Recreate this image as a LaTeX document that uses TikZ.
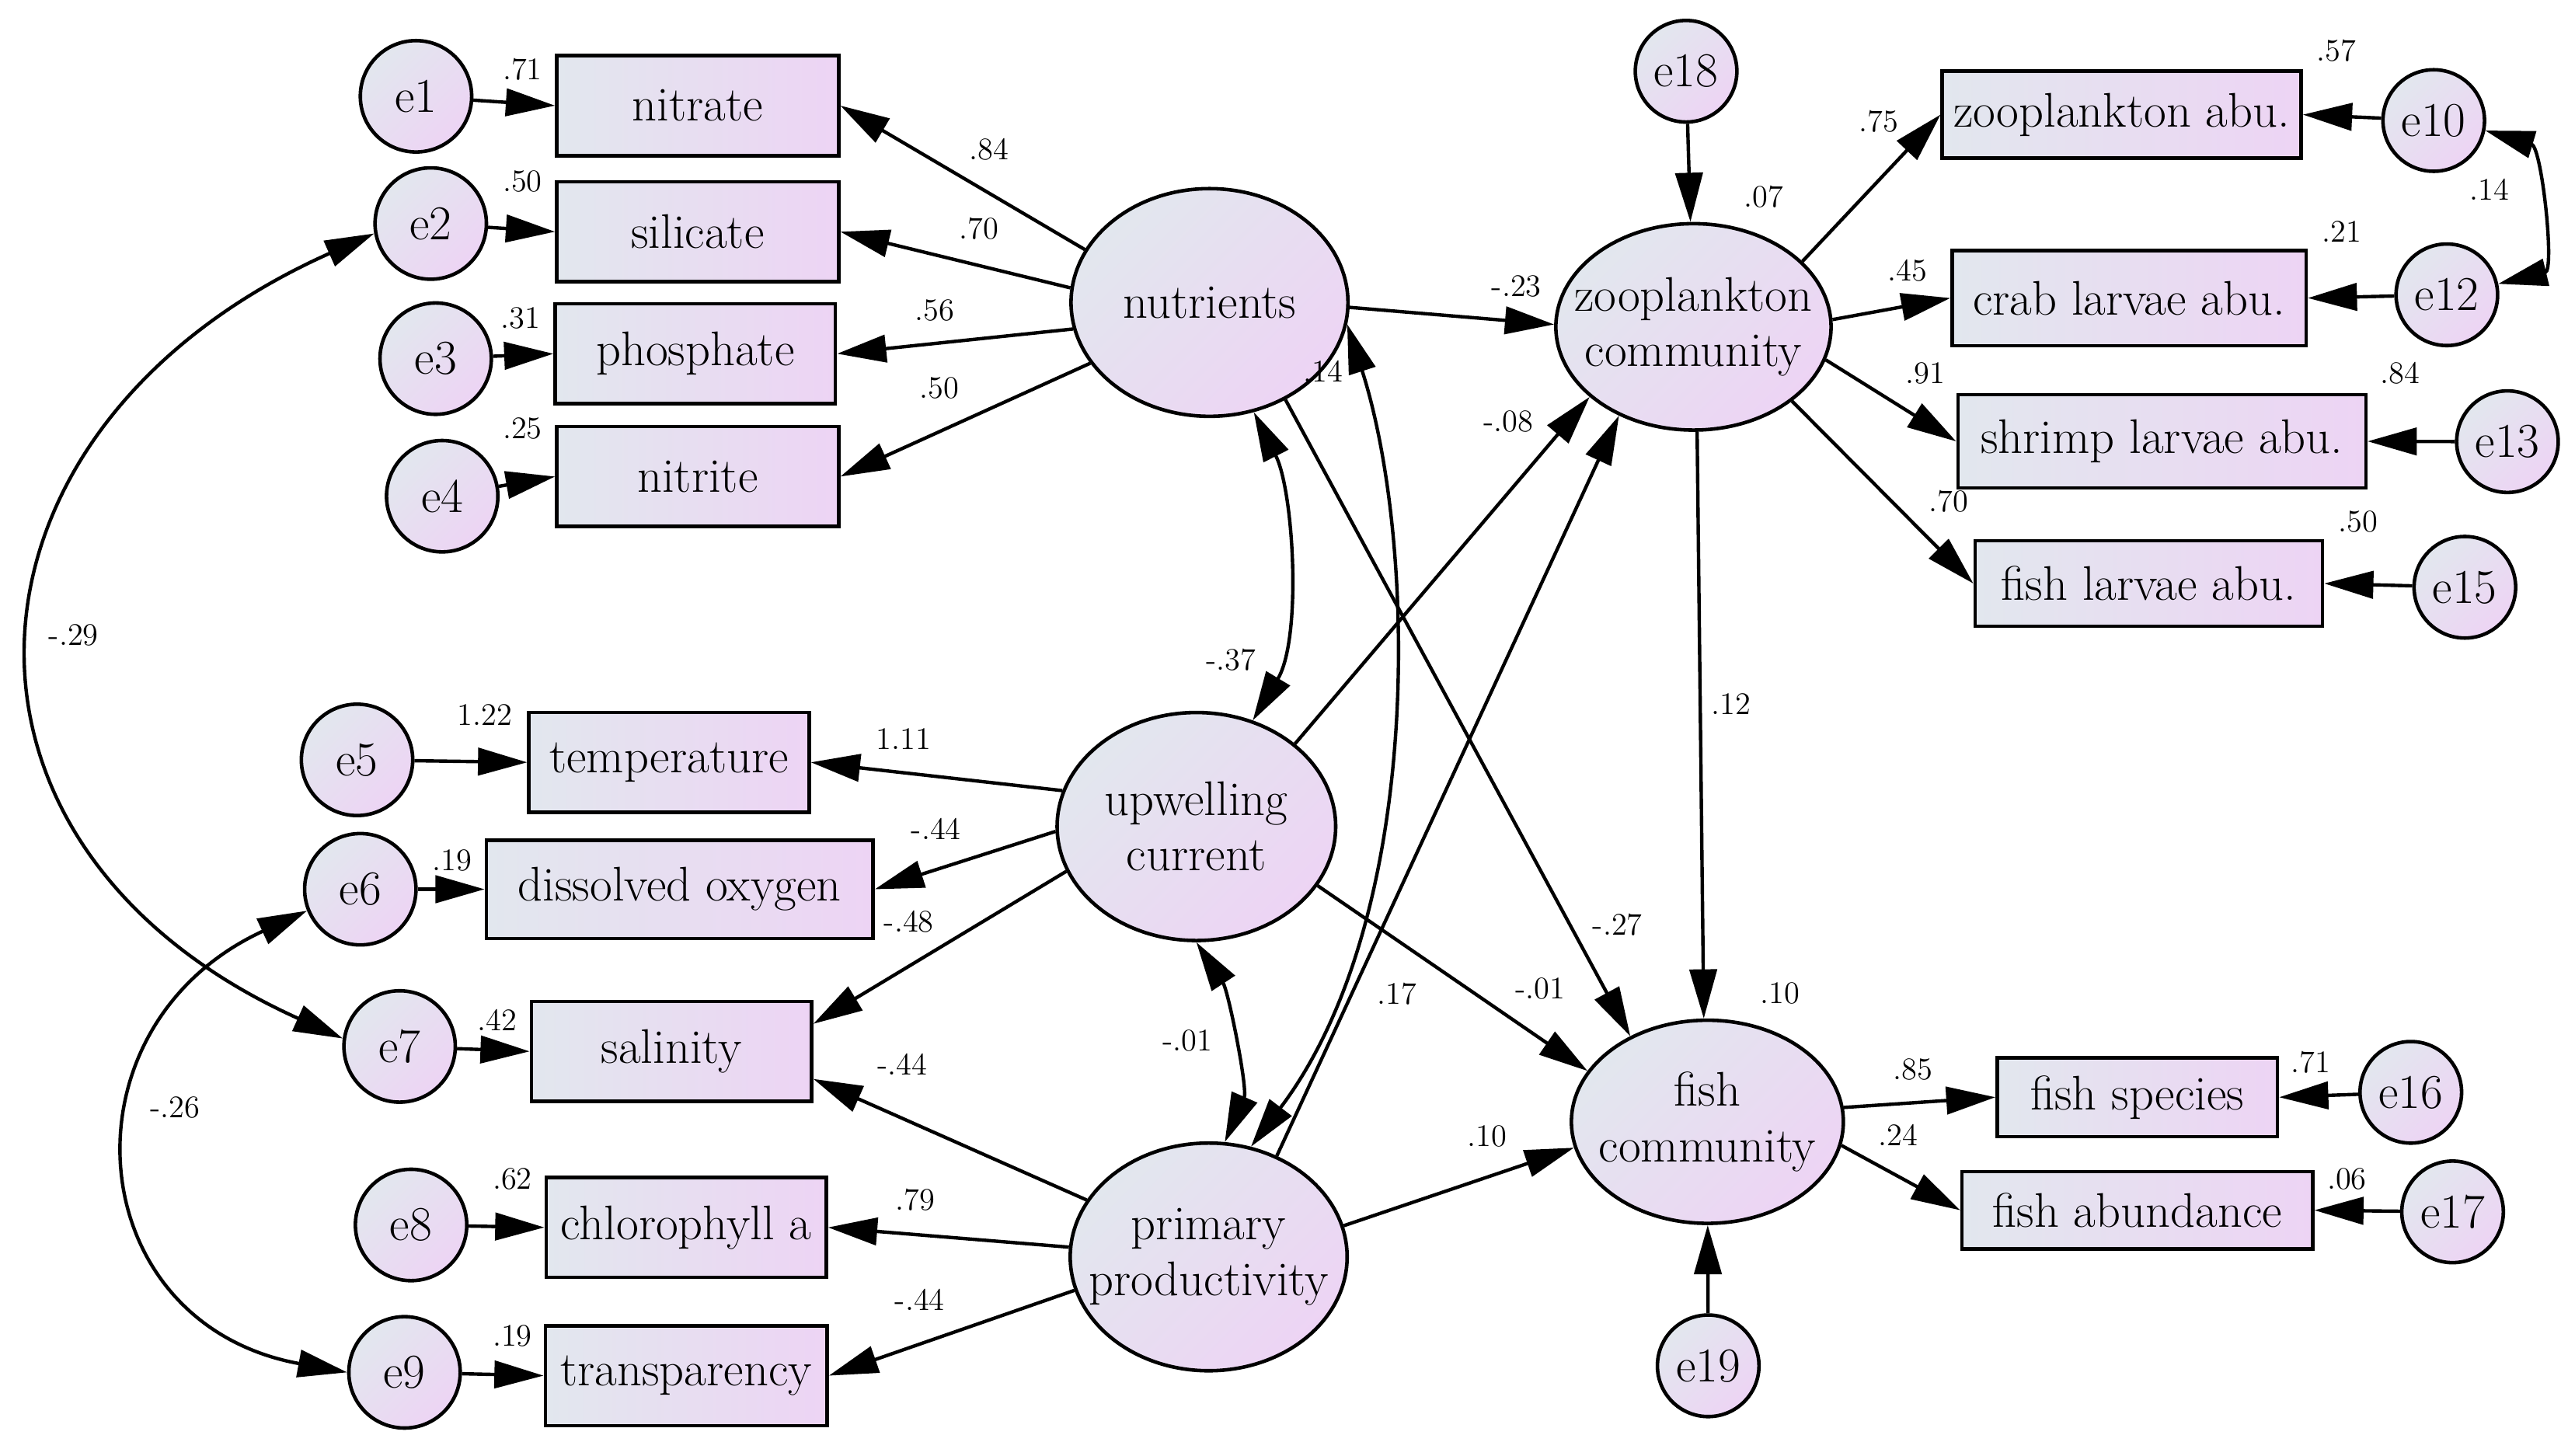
\documentclass[tikz,border=0pt]{standalone}
\usetikzlibrary{shapes.geometric,arrows.meta,shadings}
\definecolor{cA}{RGB}{226,231,238}
\definecolor{cB}{RGB}{237,212,244}
\begin{document}
\begin{tikzpicture}[x=0.02108cm, y=-0.02108cm,
  box/.style={draw, line width=1.3pt, rectangle, left color=cA, right color=cB, inner sep=1pt, font=\fontsize{17.8}{20}\selectfont},
  errl/.style={draw, line width=1.3pt, circle, inner sep=0pt, minimum size=1.433cm, top color=cA, bottom color=cB, shading angle=45, font=\fontsize{17.8}{20}\selectfont},
  errr/.style={errl, minimum size=1.307cm},
  lat/.style={draw, line width=1.3pt, ellipse, inner sep=0pt, top color=cA, bottom color=cB, shading angle=45},
  ltxt/.style={align=center, inner sep=0pt, font=\fontsize{17.8}{20.3}\selectfont},
  lbl/.style={inner sep=0pt, font=\fontsize{11.5}{13}\selectfont},
  arr/.style={line width=1.25pt, -{Triangle[length=18pt,width=10pt]}},
  cov/.style={line width=1.25pt, {Triangle[length=18pt,width=10pt]}-{Triangle[length=18pt,width=10pt]}},
]
\useasboundingbox (0,0) rectangle (1568,889);
% left error terms
\node[errl] (e1) at (254,58.8) {e1};
\node[errl] (e2) at (263,136.5) {e2};
\node[errl] (e3) at (266,219) {e3};
\node[errl] (e4) at (270,303) {e4};
\node[errl] (e5) at (218,464) {e5};
\node[errl] (e6) at (220,543) {e6};
\node[errl] (e7) at (244,639) {e7};
\node[errl] (e8) at (251,748) {e8};
\node[errl] (e9) at (247,838) {e9};
% right error terms
\node[errr] (e10) at (1486,73.6) {e10};
\node[errr] (e12) at (1494,180) {e12};
\node[errr] (e13) at (1531,269.7) {e13};
\node[errr] (e15) at (1505,358.6) {e15};
\node[errr] (e16) at (1472,667) {e16};
\node[errr] (e17) at (1497.5,740) {e17};
\node[errr] (e18) at (1029.5,43.5) {e18};
\node[errr] (e19) at (1043,834) {e19};
% left boxes
\node[box, minimum width=3.626cm, minimum height=1.286cm] (nitrate) at (426,64.5) {nitrate};
\node[box, minimum width=3.626cm, minimum height=1.286cm] (silicate) at (426,141.5) {silicate};
\node[box, minimum width=3.605cm, minimum height=1.286cm] (phosphate) at (424.5,216) {phosphate};
\node[box, minimum width=3.626cm, minimum height=1.286cm] (nitrite) at (426,291) {nitrite};
\node[box, minimum width=3.605cm, minimum height=1.286cm] (temp) at (408.5,465.5) {temperature};
\node[box, minimum width=4.975cm, minimum height=1.265cm] (do) at (415,543) {dissolved oxygen};
\node[box, minimum width=3.605cm, minimum height=1.286cm] (sal) at (410,642) {salinity};
\node[box, minimum width=3.605cm, minimum height=1.286cm] (chl) at (419,749.5) {chlorophyll a};
\node[box, minimum width=3.626cm, minimum height=1.286cm] (tra) at (419,840) {transparency};
% right boxes
\node[box, minimum width=4.617cm, minimum height=1.117cm] (zooabu) at (1295.5,70) {zooplankton abu.};
\node[box, minimum width=4.553cm, minimum height=1.223cm] (crab) at (1300,182) {crab larvae abu.};
\node[box, minimum width=5.249cm, minimum height=1.202cm] (shrimp) at (1320,269.5) {shrimp larvae abu.};
\node[box, minimum width=4.469cm, minimum height=1.096cm] (fishlarv) at (1312,356.3) {fish larvae abu.};
\node[box, minimum width=3.605cm, minimum height=1.012cm] (fishsp) at (1305,670) {fish species};
\node[box, minimum width=4.511cm, minimum height=0.991cm] (fishab) at (1305,739) {fish abundance};
% latent variables
\node[lat, minimum width=3.563cm, minimum height=2.930cm] (nutrients) at (738.5,184.7) {};
\node[lat, minimum width=3.541cm, minimum height=2.656cm] (zoocomm) at (1034,199.6) {};
\node[lat, minimum width=3.584cm, minimum height=2.934cm] (upwelling) at (730.5,504.7) {};
\node[lat, minimum width=3.563cm, minimum height=2.930cm] (primary) at (738,767.5) {};
\node[lat, minimum width=3.499cm, minimum height=2.614cm] (fishcomm) at (1042.5,685) {};
\node[ltxt] (nutrientsT) at (nutrients) {nutrients};
\node[ltxt] (zoocommT) at (zoocomm) {zooplankton\\community};
\node[ltxt] (upwellingT) at (upwelling) {upwelling\\current};
\node[ltxt] (primaryT) at (primary) {primary\\productivity};
\node[ltxt] (fishcommT) at (fishcomm) {fish\\community};
% error arrows
\draw[arr] (e1) -- (nitrate.west);
\draw[arr] (e2) -- (silicate.west);
\draw[arr] (e3) -- (phosphate.west);
\draw[arr] (e4) -- (nitrite.west);
\draw[arr] (e5) -- (temp.west);
\draw[arr] (e6) -- (do.west);
\draw[arr] (e7) -- (sal.west);
\draw[arr] (e8) -- (chl.west);
\draw[arr] (e9) -- (tra.west);
\draw[arr] (e10) -- (zooabu.east);
\draw[arr] (e12) -- (crab.east);
\draw[arr] (e13) -- (shrimp.east);
\draw[arr] (e15) -- (fishlarv.east);
\draw[arr] (e16) -- (fishsp.east);
\draw[arr] (e17) -- (fishab.east);
\draw[arr] (e18) -- (zoocomm);
\draw[arr] (e19) -- (fishcomm);
% loadings
\draw[arr] (nutrients.157) -- (nitrate.east);
\draw[arr] (nutrients.174) -- (silicate.east);
\draw[arr] (nutrients.191) -- (phosphate.east);
\draw[arr] (nutrients.207) -- (nitrite.east);
\draw[arr] (upwelling.165) -- (temp.east);
\draw[arr] (upwelling.182) -- (do.east);
\draw[arr] (upwelling.199) -- (sal.11);
\draw[arr] (primary.155.6) -- (sal.-11);
\draw[arr] (primary.176.8) -- (chl.east);
\draw[arr] (primary.194) -- (tra.east);
\draw[arr] (zoocomm.31) -- (zooabu.west);
\draw[arr] (zoocomm.3) -- (crab.west);
\draw[arr] (zoocomm.-14) -- (shrimp.west);
\draw[arr] (zoocomm.-37) -- (fishlarv.west);
\draw[arr] (fishcomm.6) -- (fishsp.west);
\draw[arr] (fishcomm.-10) -- (fishab.west);
% structural paths
\draw[arr] (nutrients.-2) -- (zoocomm.179);
\draw[arr] (nutrients.-52) -- (fishcomm.132);
\draw[arr] (upwelling.40) -- (zoocomm.214);
\draw[arr] (upwelling.-26) -- (fishcomm.157);
\draw[arr] (primary.56) -- (zoocomm.230);
\draw[arr] (primary.13.5) -- (fishcomm.191);
\draw[arr] (zoocomm.-88) -- (fishcomm.92);
% covariances
\draw[cov] (nutrients.-68) .. controls (790,300) and (795,390) .. (upwelling.62);
\draw[cov] (nutrients.-9.5) .. controls (865,330) and (870,560) .. (primary.69);
\draw[cov] (upwelling.-90) .. controls (750,605) and (762,665) .. (primary.82);
\draw[cov] (e2.190) .. controls (-35,260) and (-53,516) .. (e7.172);
\draw[cov] (e6.202) .. controls (34,627) and (48,808) .. (e9.180);
\draw[cov] (e10.-11) .. controls (1552,90) and (1560,165) .. (e12.12);
% labels
\node[lbl] (l1) at (319,42.4) {.71};
\node[lbl] (l2) at (319,111) {.50};
\node[lbl] (l3) at (318,194.4) {.31};
\node[lbl] (l4) at (319,261.5) {.25};
\node[lbl] (l5) at (604,91) {.84};
\node[lbl] (l6) at (597.7,139.8) {.70};
\node[lbl] (l7) at (570.7,189.5) {.56};
\node[lbl] (l8) at (573.4,236.8) {.50};
\node[lbl] (l9) at (926,174.7) {-.23};
\node[lbl] (l10) at (808,226.6) {.14};
\node[lbl] (l11) at (921,257.3) {-.08};
\node[lbl] (l12) at (751.5,403) {-.37};
\node[lbl] (l13) at (296,436.7) {1.22};
\node[lbl] (l14) at (551.7,451) {1.11};
\node[lbl] (l15) at (571.6,506) {-.44};
\node[lbl] (l16) at (276,525.6) {.19};
\node[lbl] (l17) at (555,563) {-.48};
\node[lbl] (l18) at (303.5,623) {.42};
\node[lbl] (l19) at (551,650) {-.44};
\node[lbl] (l20) at (725,635.7) {-.01};
\node[lbl] (l21) at (853,607) {.17};
\node[lbl] (l22) at (987.7,564.6) {-.27};
\node[lbl] (l23) at (940.5,603.8) {-.01};
\node[lbl] (l24) at (1087,606.7) {.10};
\node[lbl] (l25) at (312.8,720) {.62};
\node[lbl] (l26) at (559,732.7) {.79};
\node[lbl] (l27) at (908,694) {.10};
\node[lbl] (l28) at (561.6,793.6) {-.44};
\node[lbl] (l29) at (312.8,816) {.19};
\node[lbl] (l30) at (1168,653) {.85};
\node[lbl] (l31) at (1411,648.5) {.71};
\node[lbl] (l32) at (1159,693) {.24};
\node[lbl] (l33) at (1433,720) {.06};
\node[lbl] (l34) at (1057,430) {.12};
\node[lbl] (l35) at (45,388) {-.29};
\node[lbl] (l36) at (107,676.5) {-.26};
\node[lbl] (l37) at (1426.5,31) {.57};
\node[lbl] (l38) at (1147,74) {.75};
\node[lbl] (l39) at (1077,120) {.07};
\node[lbl] (l40) at (1520,115.7) {.14};
\node[lbl] (l41) at (1430,141.6) {.21};
\node[lbl] (l42) at (1164.6,165) {.45};
\node[lbl] (l43) at (1175.6,228) {.91};
\node[lbl] (l44) at (1465.5,228) {.84};
\node[lbl] (l45) at (1190,306) {.70};
\node[lbl] (l46) at (1440,318.6) {.50};
\end{tikzpicture}
\end{document}
